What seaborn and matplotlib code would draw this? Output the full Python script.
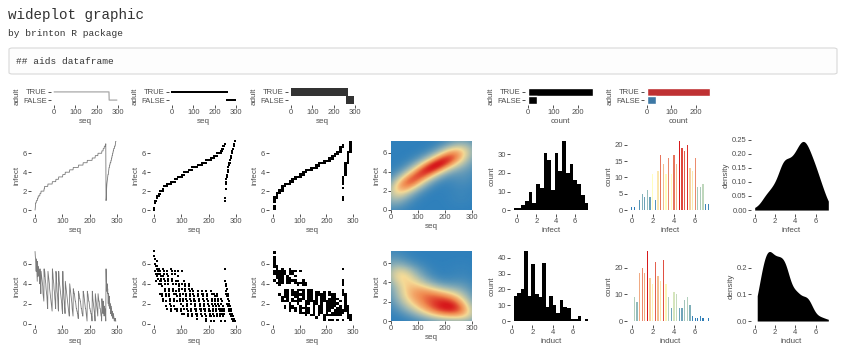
import numpy as np
import pandas as pd
import matplotlib
matplotlib.use('Agg')
import matplotlib.pyplot as plt
import seaborn as sns
from matplotlib.colors import LinearSegmentedColormap, ListedColormap, Normalize
from matplotlib.patches import FancyBboxPatch
from matplotlib.ticker import MultipleLocator, FormatStrFormatter

# ---- aids data (quarterly years) ----
infect_levels = [0.0, 0.25, 0.5, 0.75, 1.0, 1.25, 1.5, 1.75, 2.0, 2.25,
                 2.5, 2.75, 3.0, 3.25, 3.5, 3.75, 4.0, 4.25, 4.5, 4.75,
                 5.0, 5.25, 5.5, 5.75, 6.0, 6.25, 6.5, 6.75, 7.0, 7.25]
adult_infect_counts = [1, 1, 0, 3, 4, 3, 6, 4, 11, 2,
                       12, 16, 13, 10, 15, 9, 16, 13, 19, 17,
                       15, 18, 11, 10, 14, 5, 4, 5, 1, 0]

# adult induction times, rows in the same order as the infect groups above
adult_induct = [
    7.25,                                                     # 0.0
    6.75,                                                     # 0.25
    6.5, 6.0, 5.25,                                           # 0.75
    6.5, 5.75, 5.0, 4.25,                                     # 1.0
    6.25, 5.5, 4.75,                                          # 1.25
    5.75, 5.5, 5.25, 5.0, 4.5, 4.0,                           # 1.5
    5.5, 5.0, 4.25, 3.0,                                      # 1.75
    5.25, 5.0, 4.75, 4.5, 4.25, 4.0, 3.75, 3.0, 2.75, 2.5, 2.25,  # 2.0
    5.5, 4.75,                                                # 2.25
    5.25, 5.0, 4.5, 4.25, 4.0, 3.5, 3.25, 3.0, 2.75, 2.25, 1.75, 1.5,  # 2.5
    5.25, 5.0, 4.75, 4.5, 4.25, 4.0, 3.5, 3.25, 3.0, 2.75, 2.5, 2.25,
    2.0, 1.75, 1.5, 1.25,                                     # 2.75
    5.5, 5.25, 5.0, 4.5, 4.25, 4.0, 3.5, 3.25, 3.0, 2.5, 2.25, 1.75, 1.5,  # 3.0
    5.25, 5.0, 4.25, 4.0, 3.25, 3.0, 2.75, 2.25, 1.5, 1.25,   # 3.25
    5.25, 4.75, 4.25, 4.0, 3.75, 3.5, 3.25, 3.0, 2.75, 2.5, 2.25, 2.0,
    1.5, 1.25, 1.0,                                           # 3.5
    5.25, 4.0, 3.5, 3.0, 2.5, 2.25, 1.75, 1.5, 1.0,           # 3.75
    4.25, 4.0, 3.75, 3.5, 3.25, 3.0, 2.75, 2.5, 2.25, 2.0, 1.75, 1.5,
    1.25, 1.0, 0.75, 0.75,                                    # 4.0
    4.0, 3.75, 3.5, 3.25, 3.0, 2.75, 2.5, 2.25, 2.0, 1.5, 1.25, 1.0, 0.75,  # 4.25
    3.5, 3.25, 3.25, 3.0, 3.0, 2.75, 2.5, 2.25, 2.25, 2.0, 1.75, 1.5,
    1.5, 1.25, 1.25, 1.0, 1.0, 0.75, 0.5,                     # 4.5
    3.25, 3.0, 3.0, 2.75, 2.5, 2.5, 2.25, 2.25, 2.0, 1.75, 1.5, 1.5,
    1.25, 1.0, 1.0, 0.75, 0.75,                               # 4.75
    3.25, 3.0, 3.0, 2.75, 2.5, 2.25, 2.0, 1.75, 1.5, 1.5, 1.25, 1.0,
    0.75, 0.5, 0.25,                                          # 5.0
    3.25, 3.0, 3.0, 2.75, 2.5, 2.25, 2.25, 2.0, 1.75, 1.5, 1.5, 1.25,
    1.25, 1.0, 1.0, 0.75, 0.75, 0.25,                         # 5.25
    3.25, 3.0, 2.5, 2.25, 2.0, 1.75, 1.5, 1.25, 1.0, 0.75, 0.25,  # 5.5
    3.0, 2.75, 2.5, 2.25, 2.0, 1.75, 1.5, 1.25, 1.0, 0.75,    # 5.75
    3.0, 2.75, 2.5, 2.25, 2.25, 2.0, 1.75, 1.5, 1.5, 1.25, 1.0, 0.75,
    0.75, 0.25,                                               # 6.0
    2.5, 2.0, 1.5, 1.25, 1.0,                                 # 6.25
    2.25, 1.75, 1.5, 0.75,                                    # 6.5
    1.75, 1.5, 1.5, 1.25, 1.0,                                # 6.75
    0.25,                                                     # 7.0
]

child_infect = [1.0, 1.25, 2.25, 2.75, 3.0, 3.25, 3.5, 3.75, 3.75, 4.0,
                4.25, 4.5, 4.5, 4.75, 4.75, 5.0, 5.0, 5.0, 5.25, 5.25,
                5.5, 5.5, 5.75, 5.75, 6.0, 6.0, 6.25, 6.25, 6.5, 6.5,
                6.5, 6.75, 6.75, 6.75, 7.0, 7.25, 7.25]
child_induct = [5.5, 4.25, 3.75, 3.25, 4.0, 3.0, 3.5, 2.75, 2.0, 3.0,
                2.5, 1.75, 2.75, 2.25, 1.5, 2.0, 1.25, 1.0, 1.75, 1.0,
                1.5, 0.75, 1.25, 0.75, 1.0, 0.5, 1.0, 0.75, 0.75, 0.5,
                0.25, 0.5, 0.5, 0.25, 0.5, 0.25, 0.25]

W, H = 850, 363
TXT = '#4d4d4d'
heat = LinearSegmentedColormap.from_list('heat', ['#2c7bb6', '#ffffbf', '#d7191c'])
raster_heat = LinearSegmentedColormap.from_list(
    'raster_heat', [(0, '#2f80bb'), (0.35, '#9fb8b4'), (0.6, '#f6dc98'),
                    (0.82, '#f08a50'), (1, '#d7191c')])
bool_colors = {'TRUE': '#d7191c', 'FALSE': '#2c7bb6'}


def build_frame():
    adult_infect = np.repeat(infect_levels, adult_infect_counts)
    assert len(adult_infect) == len(adult_induct)
    infect = np.concatenate([adult_infect, child_infect])
    induct = np.concatenate([adult_induct, child_induct])
    adult = np.r_[np.ones(len(adult_infect), bool), np.zeros(len(child_infect), bool)]
    df = pd.DataFrame({'seq': np.arange(1, len(infect) + 1), 'infect': infect,
                       'induct': induct, 'adult': adult})
    df['adult_lbl'] = np.where(df['adult'], 'TRUE', 'FALSE')
    df['adult_y'] = np.where(df['adult'], 2, 1)
    return df


def px_axes(fig, x0, y0, x1, y1):
    return fig.add_axes([x0 / W, 1 - y1 / H, (x1 - x0) / W, (y1 - y0) / H])


def gg_lim(lo, hi, mult=0.05):
    pad = (hi - lo) * mult
    return lo - pad, hi + pad


def finish(ax, xlabel, ylabel):
    sns.despine(ax=ax, left=True, bottom=True)
    ax.grid(False)
    ax.tick_params(axis='both', bottom=True, left=True, length=2, width=0.6, pad=1,
                   labelsize=5.5, color='#333333', labelcolor=TXT)
    ax.set_xlabel(xlabel, fontsize=5.8, color=TXT, labelpad=1.5)
    ax.set_ylabel(ylabel, fontsize=5.8, color=TXT, labelpad=1.5)


def seq_x(ax, df):
    ax.set_xlim(*gg_lim(df['seq'].min(), df['seq'].max()))
    ax.xaxis.set_major_locator(MultipleLocator(100))


def bool_y(ax):
    ax.set_ylim(0.4, 2.6)
    ax.set_yticks([1, 2])
    ax.set_yticklabels(['FALSE', 'TRUE'])


def nrd_sd(v):
    q1, q3 = np.percentile(v, [25, 75])
    return 1.06 * min(np.std(v, ddof=1), (q3 - q1) / 1.34) * len(v) ** -0.2


def density_grid(x, y, xlim, ylim, n=150, bw_mult=1.4):
    gx = np.linspace(xlim[0], xlim[1], n)
    gy = np.linspace(ylim[0], ylim[1], n)
    kx = np.exp(-0.5 * ((gx[:, None] - x[None, :]) / (bw_mult * nrd_sd(x))) ** 2)
    ky = np.exp(-0.5 * ((gy[:, None] - y[None, :]) / (bw_mult * nrd_sd(y))) ** 2)
    return gx, gy, ky @ kx.T


def draw_bool_row(fig, df):
    top, bot = 87, 105
    ax = px_axes(fig, 51, top, 120, bot)
    sns.lineplot(data=df, x='seq', y='adult_y', color='#a8a8a8', linewidth=0.9,
                 estimator=None, ax=ax)
    seq_x(ax, df); bool_y(ax); finish(ax, 'seq', 'adult')

    ax = px_axes(fig, 169, top, 238, bot)
    sns.scatterplot(data=df, x='seq', y='adult_y', marker='s', s=2.5, color='black',
                    linewidth=0, ax=ax)
    seq_x(ax, df); bool_y(ax); finish(ax, 'seq', 'adult')

    ax = px_axes(fig, 288, top, 357, bot)
    sns.histplot(data=df, x='seq', y='adult_y', bins=30, discrete=(False, True),
                 cmap=ListedColormap(['#333333']), ax=ax)
    seq_x(ax, df); bool_y(ax); finish(ax, 'seq', 'adult')

    n_true = int(df['adult'].sum())
    ax = px_axes(fig, 525, top, 596, bot)
    sns.countplot(data=df, y='adult_lbl', order=['TRUE', 'FALSE'], color='black',
                  width=0.9, ax=ax)
    ax.set_xlim(*gg_lim(0, n_true)); ax.set_ylim(1.6, -0.6)
    ax.xaxis.set_major_locator(MultipleLocator(100))
    finish(ax, 'count', 'adult')

    ax = px_axes(fig, 644, top, 713, bot)
    sns.countplot(data=df, y='adult_lbl', order=['TRUE', 'FALSE'], hue='adult_lbl',
                  palette=bool_colors, legend=False, dodge=False, width=0.9, ax=ax)
    ax.set_xlim(*gg_lim(0, n_true)); ax.set_ylim(1.6, -0.6)
    ax.xaxis.set_major_locator(MultipleLocator(100))
    finish(ax, 'count', 'adult')


def draw_numeric_row(fig, df, var, top, bot, hist_bins, count_step, bar_step,
                     dens_step, dens_fmt):
    vmin, vmax = df[var].min(), df[var].max()

    ax = px_axes(fig, 31, top, 120, bot)
    sns.lineplot(data=df, x='seq', y=var, color='#7a7a7a', linewidth=0.6,
                 estimator=None, ax=ax)
    seq_x(ax, df); ax.set_ylim(*gg_lim(vmin, vmax))
    ax.yaxis.set_major_locator(MultipleLocator(2)); finish(ax, 'seq', var)

    ax = px_axes(fig, 150, top, 239, bot)
    sns.scatterplot(data=df, x='seq', y=var, marker='s', s=1.6, color='black',
                    linewidth=0, ax=ax)
    seq_x(ax, df); ax.set_ylim(*gg_lim(vmin, vmax))
    ax.yaxis.set_major_locator(MultipleLocator(2)); finish(ax, 'seq', var)

    ax = px_axes(fig, 269, top, 356, bot)
    sns.histplot(data=df, x='seq', y=var, bins=30, cmap=ListedColormap(['black']), ax=ax)
    seq_x(ax, df); ax.set_ylim(*gg_lim(vmin, vmax))
    ax.yaxis.set_major_locator(MultipleLocator(2)); finish(ax, 'seq', var)

    # 2d density raster
    ax = px_axes(fig, 391, top + 3, 472, bot - 3.5)
    xl, yl = (0, 300), (0, 7.25)
    gx, gy, dens = density_grid(df['seq'].to_numpy(float), df[var].to_numpy(float), xl, yl)
    ax.pcolormesh(gx, gy, dens, cmap=raster_heat, shading='gouraud')
    ax.set_xlim(*xl); ax.set_ylim(*yl)
    ax.xaxis.set_major_locator(MultipleLocator(100))
    ax.yaxis.set_major_locator(MultipleLocator(2)); finish(ax, 'seq', var)

    ax = px_axes(fig, 510, top, 592, bot)
    binwidth, binrange = hist_bins
    sns.histplot(data=df, x=var, binwidth=binwidth, binrange=binrange, color='black',
                 alpha=1, linewidth=0, ax=ax)
    ax.use_sticky_edges = False
    ax.margins(0.05); ax.autoscale_view()
    ax.xaxis.set_major_locator(MultipleLocator(2))
    ax.yaxis.set_major_locator(MultipleLocator(count_step)); finish(ax, var, 'count')

    # one thin bar per distinct value, filled by its count
    ax = px_axes(fig, 627, top, 713, bot)
    sns.histplot(data=df, x=var, binwidth=0.25, binrange=(-0.125, 7.375), shrink=0.5,
                 alpha=1, linewidth=0, ax=ax)
    heights = np.array([p.get_height() for p in ax.patches])
    norm = Normalize(heights[heights > 0].min(), heights.max())
    for p, h in zip(ax.patches, heights):
        p.set_facecolor(heat(norm(h)))
    ax.use_sticky_edges = False
    ax.margins(0.05); ax.autoscale_view()
    ax.xaxis.set_major_locator(MultipleLocator(2))
    ax.yaxis.set_major_locator(MultipleLocator(bar_step)); finish(ax, var, 'count')

    ax = px_axes(fig, 751, top, 832, bot)
    sns.kdeplot(data=df, x=var, fill=True, color='black', alpha=1, linewidth=0,
                cut=0, bw_adjust=0.9, ax=ax)
    ax.use_sticky_edges = False
    ax.set_xlim(*gg_lim(0, 7.25))
    ax.margins(y=0.05); ax.autoscale_view(scalex=False)
    ax.xaxis.set_major_locator(MultipleLocator(2))
    ax.yaxis.set_major_locator(MultipleLocator(dens_step))
    ax.yaxis.set_major_formatter(FormatStrFormatter(dens_fmt))
    finish(ax, var, 'density')


def main():
    sns.set_theme(style='white')
    plt.rcParams['font.family'] = ['Liberation Sans', 'DejaVu Sans']
    df = build_frame()

    fig = plt.figure(figsize=(W / 100, H / 100), dpi=100)
    mono = ['Liberation Mono', 'DejaVu Sans Mono']
    fig.text(8 / W, 1 - 19.5 / H, 'wideplot graphic', family=mono, fontsize=10.3,
             color='#333333', va='baseline')
    fig.text(8 / W, 1 - 36.5 / H, 'by brinton R package', family=mono, fontsize=6.8,
             color='#333333', va='baseline')
    box = FancyBboxPatch((9 / W, 1 - 74 / H), 828 / W, 26 / H, transform=fig.transFigure,
                         boxstyle='round,pad=0,rounding_size=0.004', facecolor='#fdfdfd',
                         edgecolor='#d9d9d9', linewidth=0.8)
    fig.patches.append(box)
    fig.text(16 / W, 1 - 63.5 / H, '## aids dataframe', family=mono, fontsize=6.8,
             color='#333333', va='baseline')

    draw_bool_row(fig, df)
    draw_numeric_row(fig, df, 'infect', 138, 213.5, (7.25 / 19, (-0.32, 7.35)),
                     10, 5, 0.05, '%.2f')
    draw_numeric_row(fig, df, 'induct', 248, 324.5, (0.35, (0.175, 7.525)),
                     10, 10, 0.1, '%.1f')

    fig.savefig('out.png', dpi=100, facecolor='white')


if __name__ == '__main__':
    main()
